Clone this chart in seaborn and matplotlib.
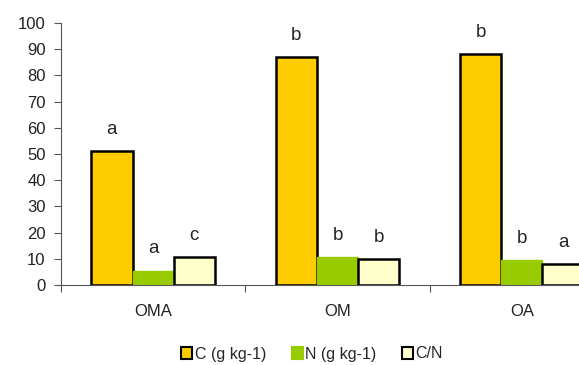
import matplotlib
matplotlib.use("Agg")
import matplotlib.pyplot as plt
import seaborn as sns
import pandas as pd
from matplotlib.patches import Patch

sites = ["OMA", "OM", "OA"]
series = ["C (g kg-1)", "N (g kg-1)", "C/N"]
c_vals = [51, 87, 88]
n_vals = [5.5, 10.5, 9.5]
cn_vals = [10.8, 10, 8]
c_letters = ["a", "b", "b"]
n_letters = ["a", "b", "b"]
cn_letters = ["c", "b", "a"]
yticks = list(range(0, 101, 10))

colors = ["#FFCC00", "#99CC00", "#FFFFCC"]
edges = ["black", "#99CC00", "black"]

rows = []
for s, vals in zip(series, [c_vals, n_vals, cn_vals]):
    for site, v in zip(sites, vals):
        rows.append({"site": site, "series": s, "value": v})
df = pd.DataFrame(rows)

sns.set_style("white")
plt.rcParams["font.family"] = ["Liberation Sans", "DejaVu Sans"]

fig = plt.figure(figsize=(5.79, 3.65), dpi=100)
ax = fig.add_axes([61/579, 80/365, 553/579, 262/365])

sns.barplot(data=df, x="site", y="value", hue="series", order=sites,
            hue_order=series, palette=colors, width=0.67, ax=ax,
            legend=False, errorbar=None, saturation=1)

letters = [c_letters, n_letters, cn_letters]
for i, cont in enumerate(ax.containers):
    for j, bar in enumerate(cont):
        bar.set_edgecolor(edges[i])
        bar.set_linewidth(1.8 if i != 1 else 1.0)
        h = bar.get_height()
        ax.text(bar.get_x() + bar.get_width() / 2, h + 5, letters[i][j],
                ha="center", va="bottom", fontsize=13.5, fontweight="medium")

ax.set_ylim(0, 100)
ax.set_xlim(-0.5, 2.5)
ax.set_yticks(yticks)
ax.set_yticklabels([str(t) for t in yticks], fontsize=12, color="#222222")
ax.set_xticks([-0.5, 0.5, 1.5, 2.5])
ax.set_xticklabels([])
ax.set_xticks([0, 1, 2], minor=True)
ax.set_xticklabels(sites, minor=True, fontsize=12, color="#222222")
ax.tick_params(axis="x", which="minor", length=0, pad=14)
ax.tick_params(axis="x", which="major", length=5, direction="out", color="#555555", width=0.8, bottom=True)
ax.tick_params(axis="y", length=5, direction="out", color="#555555", width=0.8, left=True, pad=6)
ax.set_xlabel("")
ax.set_ylabel("")
for sp in ["top", "right"]:
    ax.spines[sp].set_visible(False)
for sp in ["left", "bottom"]:
    ax.spines[sp].set_color("#555555")
    ax.spines[sp].set_linewidth(0.8)

handles = [Patch(facecolor=colors[k], edgecolor=edges[k], linewidth=1.5) for k in range(3)]
fig.legend(handles, series, loc="center", bbox_to_anchor=(312/579, 1 - 354/365),
           ncol=3, frameon=False, fontsize=11.5, handlelength=0.7, handleheight=0.7,
           handletextpad=0.15, columnspacing=1.6)

fig.savefig("out.png", dpi=100)
